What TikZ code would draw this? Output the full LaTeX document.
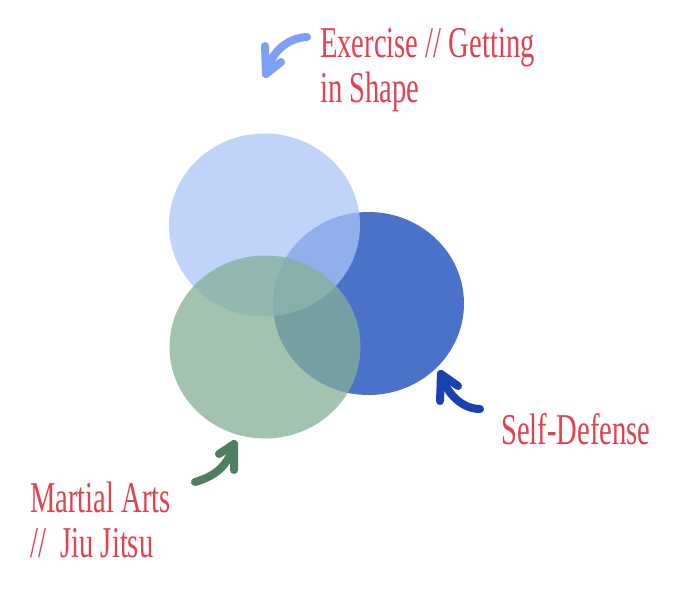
\documentclass[tikz,border=0pt]{standalone}
\usepackage{fontspec}
\setmainfont{Liberation Serif}[FakeStretch=0.65]
\usetikzlibrary{shapes.geometric}
\definecolor{cLight}{RGB}{171,197,249}
\definecolor{cDark}{RGB}{74,114,200}
\definecolor{cGreen}{RGB}{132,175,150}
\definecolor{aLight}{RGB}{123,160,245}
\definecolor{aDark}{RGB}{24,66,176}
\definecolor{aGreen}{RGB}{76,128,96}
\definecolor{txtred}{RGB}{224,66,80}
\tikzset{
  setcircle/.style={ellipse, inner sep=0pt, minimum width=191pt, minimum height=183pt, draw=none},
  label/.style={text=txtred, inner sep=0pt, align=left, font=\fontsize{44}{45}\selectfont},
  brush/.style={line width=8pt, line cap=round, line join=round},
}
\begin{document}
\begin{tikzpicture}[x=1pt,y=-1pt]
\useasboundingbox (0,0) rectangle (690,597);
\fill[white] (0,0) rectangle (690,597);
% circles
\node[setcircle, fill=cDark] (dark) at (368.5,303.5) {};
\node[setcircle, fill=cLight, fill opacity=0.74] (light) at (264.5,225) {};
\node[setcircle, fill=cGreen, fill opacity=0.75] (green) at (265,347) {};
% labels (base anchor = baseline of the last line)
\node[label, anchor=base west] (lex) at (320,102) {Exercise // Getting\\in Shape};
\node[label, anchor=base west] (lsd) at (501,444) {Self-Defense};
\node[label, anchor=base west] (lma) at (30,557) {Martial Arts\\//\ \ Jiu Jitsu};
% light blue arrow
\coordinate (t1) at (307,37);
\coordinate (h1) at (266,74);
\coordinate (b1a) at (265,46);
\coordinate (b1b) at (281,62);
\draw[brush, aLight] (t1) .. controls (285,38) and (270,55) .. (h1);
\draw[brush, aLight] (b1a) -- (h1) -- (b1b);
% dark blue arrow
\coordinate (t2) at (480,409);
\coordinate (h2) at (441,374);
\coordinate (b2a) at (440,401);
\coordinate (b2b) at (458,386);
\draw[brush, aDark] (t2) .. controls (463,409) and (447,395) .. (h2);
\draw[brush, aDark] (b2a) -- (h2) -- (b2b);
% green arrow
\coordinate (t3) at (195,482);
\coordinate (h3) at (234,444);
\coordinate (b3a) at (219,454);
\coordinate (b3b) at (234,470);
\draw[brush, aGreen] (t3) .. controls (212,477) and (228,468) .. (h3);
\draw[brush, aGreen] (b3a) -- (h3) -- (b3b);
\end{tikzpicture}
\end{document}
